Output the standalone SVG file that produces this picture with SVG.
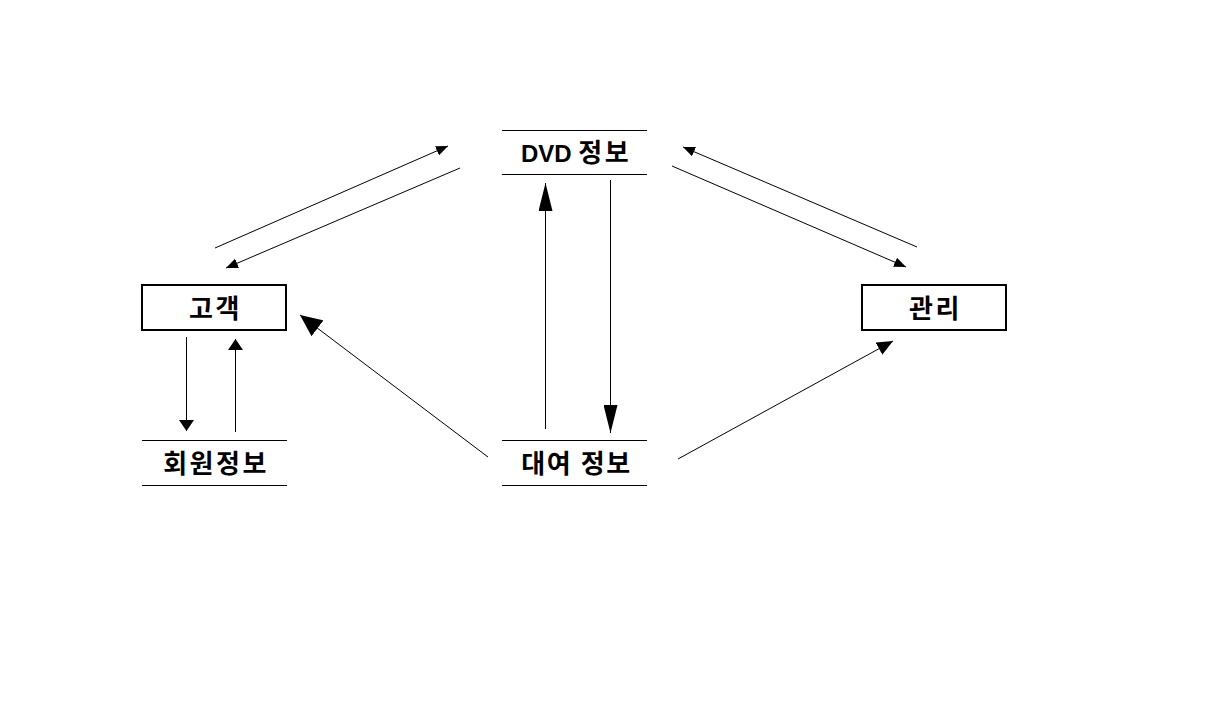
<svg xmlns="http://www.w3.org/2000/svg" width="1221" height="719" viewBox="0 0 1221 719">
<style>
.t{font-family:"Liberation Sans","Noto Sans CJK KR",sans-serif;font-weight:bold;font-size:24px;text-anchor:middle;fill:#000}
.k{font-size:26px;letter-spacing:2.5px}
.c{stroke:#000;stroke-width:1;fill:none}
.b{fill:#fff;stroke:#000;stroke-width:2}
.s{stroke:#000;stroke-width:1}
</style>
<defs>
<marker id="sm" markerUnits="userSpaceOnUse" viewBox="0 0 12 10" refX="12" refY="5" markerWidth="12" markerHeight="10" orient="auto"><path d="M0,0 L12,5 L0,10 z" fill="#000"/></marker>
<marker id="md" markerUnits="userSpaceOnUse" viewBox="0 0 11 15" refX="11" refY="7.5" markerWidth="11" markerHeight="15" orient="auto"><path d="M0,0 L11,7.5 L0,15 z" fill="#000"/></marker>
<marker id="lg" markerUnits="userSpaceOnUse" viewBox="0 0 28 14" refX="28" refY="7" markerWidth="28" markerHeight="14" orient="auto"><path d="M0,0 L28,7 L0,14 z" fill="#000"/></marker>
<marker id="bg" markerUnits="userSpaceOnUse" viewBox="0 0 22 20" refX="22" refY="10" markerWidth="22" markerHeight="20" orient="auto"><path d="M0,0 L22,10 L0,20 z" fill="#000"/></marker>
<marker id="mg" markerUnits="userSpaceOnUse" viewBox="0 0 16 14" refX="16" refY="7" markerWidth="16" markerHeight="14" orient="auto"><path d="M0,0 L16,7 L0,14 z" fill="#000"/></marker>
</defs>
<rect width="1221" height="719" fill="#fff"/>
<g id="connectors">
<line class="c" x1="215" y1="248" x2="448" y2="146" marker-end="url(#sm)"/>
<line class="c" x1="460" y1="168" x2="226" y2="268" marker-end="url(#sm)"/>
<line class="c" x1="917" y1="247" x2="683" y2="147" marker-end="url(#sm)"/>
<line class="c" x1="672" y1="166" x2="906" y2="267" marker-end="url(#sm)"/>
<line class="c" x1="186.5" y1="337" x2="186.5" y2="431" marker-end="url(#md)"/>
<line class="c" x1="235.5" y1="432" x2="235.5" y2="339" marker-end="url(#md)"/>
<line class="c" x1="545.5" y1="429" x2="545.5" y2="183" marker-end="url(#lg)"/>
<line class="c" x1="610.5" y1="180" x2="610.5" y2="433" marker-end="url(#lg)"/>
<line class="c" x1="488" y1="457" x2="300" y2="315" marker-end="url(#bg)"/>
<line class="c" x1="678" y1="459" x2="893" y2="341" marker-end="url(#mg)"/>
</g>
<g id="dvd">
<line class="s" x1="502" y1="130.5" x2="647" y2="130.5"/>
<line class="s" x1="502" y1="174.5" x2="647" y2="174.5"/>
<text class="t" x="576" y="162">DVD <tspan class="k">정보</tspan></text>
</g>
<g id="customer">
<rect class="b" x="142" y="285" width="144" height="45"/>
<text class="t k" x="215.5" y="318">고객</text>
</g>
<g id="admin">
<rect class="b" x="862" y="285" width="144" height="45"/>
<text class="t k" x="935.5" y="318">관리</text>
</g>
<g id="member">
<line class="s" x1="142" y1="440.5" x2="287" y2="440.5"/>
<line class="s" x1="142" y1="485.5" x2="287" y2="485.5"/>
<text class="t k" x="216" y="473">회원정보</text>
</g>
<g id="rental">
<line class="s" x1="502" y1="440.5" x2="647" y2="440.5"/>
<line class="s" x1="502" y1="485.5" x2="647" y2="485.5"/>
<text class="t k" x="576.5" y="473" style="letter-spacing:1.5px">대여 정보</text>
</g>
</svg>
